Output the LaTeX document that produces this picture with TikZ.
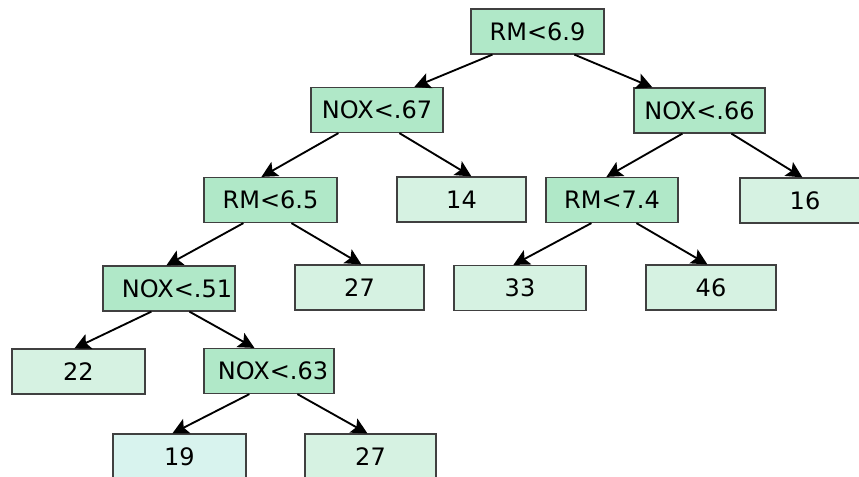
\documentclass[tikz,border=0pt]{standalone}
\usepackage{fontspec}
\setmainfont{DejaVu Sans}
\usetikzlibrary{calc,arrows.meta}
\definecolor{intfill}{HTML}{B0E8C8}
\definecolor{leaffill}{HTML}{D6F2E2}
\definecolor{leafcyan}{HTML}{D8F3EE}
\definecolor{boxline}{HTML}{404040}
\tikzset{
  box/.style={draw=boxline, line width=0.9pt, inner sep=0pt, minimum height=33.75pt,
    font=\fontsize{18}{20}\selectfont},
  intbox/.style={box, fill=intfill},
  leafbox/.style={box, fill=leaffill},
  arr/.style={-{Stealth[length=12pt,width=12pt,inset=2.5pt]}, line width=1.4pt, black}
}
\begin{document}
\begin{tikzpicture}[x=0.75pt,y=-0.75pt]
\useasboundingbox (0,0) rectangle (859,476);
% internal nodes
\node[intbox, minimum width=99.75pt] (A) at (537.5,31.5) {RM<6.9};
\node[intbox, minimum width=99pt] (B) at (377,110) {NOX<.67};
\node[intbox, minimum width=98.25pt] (C) at (699.5,110.5) {NOX<.66};
\node[intbox, minimum width=99.75pt] (D) at (270.5,200) {RM<6.5};
\node[intbox, minimum width=99pt] (F) at (612,200) {RM<7.4};
\node[intbox, minimum width=99pt] (H) at (169,288.5) {\hspace{12pt}NOX<.51};
\node[intbox, minimum width=97.5pt] (M) at (269,371) {\hspace{6pt}NOX<.63};
% leaves
\node[leafbox, minimum width=96.75pt] (E) at (461.5,199.5) {14};
\node[leafbox, minimum width=97.5pt] (G) at (805,200.5) {16};
\node[leafbox, minimum width=96.75pt] (I) at (359.5,287.5) {27};
\node[leafbox, minimum width=99pt] (J) at (520,288) {33\hspace{8pt}};
\node[leafbox, minimum width=97.5pt] (K) at (711,287.5) {46};
\node[leafbox, minimum width=99.75pt] (L) at (78.5,371.5) {22\hspace{8pt}};
\node[box, fill=leafcyan, minimum width=99.75pt] (N) at (179.5,456.5) {19};
\node[leafbox, minimum width=98.25pt] (O) at (370.5,456.5) {27};
% connectors
\draw[arr] ($(A.south west)+(22,0)$) -- ($(B.north west)+(104,0)$);
\draw[arr] ($(A.south west)+(104,0)$) -- ($(C.north west)+(19,0)$);
\draw[arr] ($(B.south west)+(28,0)$) -- ($(D.north west)+(58,0)$);
\draw[arr] ($(B.south west)+(89,0)$) -- ($(E.north west)+(75,0)$);
\draw[arr] ($(C.south west)+(49,0)$) -- ($(F.north west)+(61,0)$);
\draw[arr] ($(C.south west)+(98,0)$) -- ($(G.north west)+(63,0)$);
\draw[arr] ($(D.south west)+(40,0)$) -- ($(H.north west)+(64,0)$);
\draw[arr] ($(D.south west)+(88,0)$) -- ($(I.north west)+(67,0)$);
\draw[arr] ($(F.south west)+(46,0)$) -- ($(J.north west)+(60,0)$);
\draw[arr] ($(F.south west)+(91,0)$) -- ($(K.north west)+(62,0)$);
\draw[arr] ($(H.south west)+(49,0)$) -- ($(L.north west)+(63,0)$);
\draw[arr] ($(H.south west)+(87,0)$) -- ($(M.north west)+(51,0)$);
\draw[arr] ($(M.south west)+(46,0)$) -- ($(N.north west)+(60,0)$);
\draw[arr] ($(M.south west)+(94,0)$) -- ($(O.north west)+(63,0)$);
\end{tikzpicture}
\end{document}
